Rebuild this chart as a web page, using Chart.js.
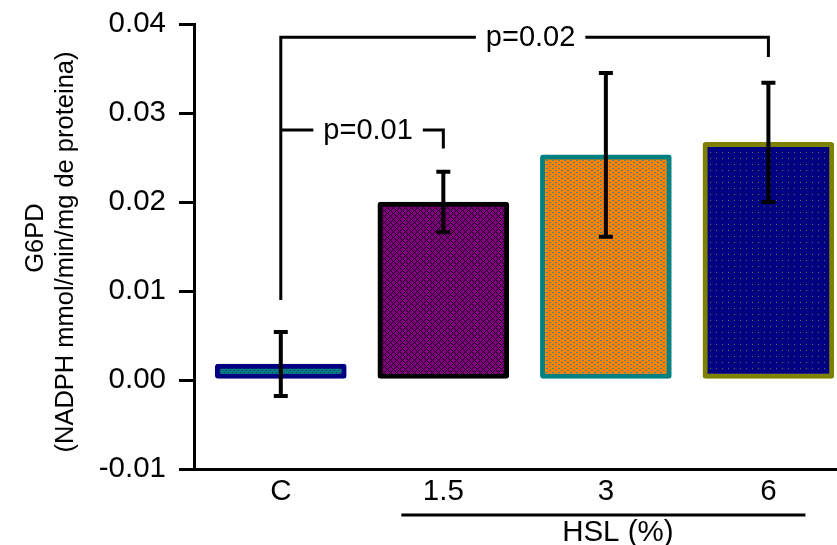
<!DOCTYPE html>
<html>
<head>
<meta charset="utf-8">
<script src="https://cdn.jsdelivr.net/npm/chart.js@4.4.1/dist/chart.umd.min.js"></script>
<style>
  html, body { margin: 0; padding: 0; background: #fff; }
  #g6pdChart { display: block; }
</style>
</head>
<body>
<canvas id="g6pdChart" width="837" height="545"></canvas>
<script>
// グループ (C = 対照, 1.5/3/6 = HSL %)
const categories = ['C', '1.5', '3', '6'];
const means = [0.0018, 0.0200, 0.0253, 0.0267];
const errors = [0.0036, 0.0034, 0.0092, 0.0067];
const yTicks = [-0.01, 0.00, 0.01, 0.02, 0.03, 0.04];

// 有意差の表示: [from, to], 水平線の高さ, 両端の下がり位置
const sigPairs = [[0, 3], [0, 1]];
const sigLabels = ['p=0.02', 'p=0.01'];
const sigLevels = [0.0385, 0.0281];
const sigDrops = [[0.0090, 0.0363], [0.0281, 0.0260]];

const fontFamily = 'Arial, "Liberation Sans", sans-serif';

document.addEventListener('DOMContentLoaded', function() {
    const canvas = document.getElementById('g6pdChart');
    const ctx = canvas.getContext('2d');

    function makePattern(w, h, bg, draw) {
        const c = document.createElement('canvas');
        c.width = w;
        c.height = h;
        const p = c.getContext('2d');
        p.fillStyle = bg;
        p.fillRect(0, 0, w, h);
        draw(p);
        return ctx.createPattern(c, 'repeat');
    }

    // 棒ごとの塗りパターン
    const fills = [
        makePattern(4, 4, '#008080', p => {
            p.fillStyle = '#1a2a70';
            p.fillRect(0, 0, 1, 1);
            p.fillRect(2, 2, 1, 1);
        }),
        makePattern(6, 6, '#800080', p => {
            p.fillStyle = '#1a0018';
            [[0, 0], [1, 1], [2, 2], [4, 2], [5, 1], [3, 3], [2, 4], [1, 5], [4, 4], [5, 5]].forEach(d => {
                p.fillRect(d[0], d[1], 1, 1);
            });
        }),
        makePattern(6, 4, '#ff8000', p => {
            p.fillStyle = '#3c8c78';
            p.fillRect(0, 0, 2, 1);
            p.fillRect(3, 2, 2, 1);
        }),
        makePattern(6, 6, '#000080', p => {
            p.fillStyle = '#707040';
            p.fillRect(2, 2, 1, 1);
        })
    ];
    const borders = ['#000080', '#000000', '#008080', '#808000'];

    const errorBars = {
        id: 'errorBars',
        afterDatasetsDraw(chart) {
            const xs = chart.scales.x, ys = chart.scales.y;
            const c = chart.ctx;
            c.save();
            c.strokeStyle = '#000';
            c.lineWidth = 4;
            means.forEach((m, i) => {
                const x = xs.getPixelForValue(i);
                const top = ys.getPixelForValue(m + errors[i]);
                const bot = ys.getPixelForValue(m - errors[i]);
                c.beginPath();
                c.moveTo(x, top);
                c.lineTo(x, bot);
                c.moveTo(x - 7, top);
                c.lineTo(x + 7, top);
                c.moveTo(x - 7, bot);
                c.lineTo(x + 7, bot);
                c.stroke();
            });
            c.restore();
        }
    };

    const annotations = {
        id: 'annotations',
        afterDraw(chart) {
            const xs = chart.scales.x, ys = chart.scales.y;
            const c = chart.ctx;
            c.save();
            c.strokeStyle = '#000';
            c.fillStyle = '#000';
            c.lineWidth = 3;
            c.font = '29px ' + fontFamily;
            c.textAlign = 'center';
            c.textBaseline = 'middle';

            sigPairs.forEach((pair, k) => {
                const x1 = xs.getPixelForValue(pair[0]);
                const x2 = xs.getPixelForValue(pair[1]);
                const y = ys.getPixelForValue(sigLevels[k]);
                const mid = (x1 + x2) / 2 + 6;
                const half = c.measureText(sigLabels[k]).width / 2 + 10;
                c.beginPath();
                c.moveTo(x1, ys.getPixelForValue(sigDrops[k][0]));
                c.lineTo(x1, y);
                c.lineTo(mid - half, y);
                c.moveTo(mid + half, y);
                c.lineTo(x2, y);
                c.lineTo(x2, ys.getPixelForValue(sigDrops[k][1]));
                c.stroke();
                c.fillText(sigLabels[k], mid, y + 1);
            });

            // HSL (%) のまとめ線
            const lx1 = xs.getPixelForValue(1) - 42;
            const lx2 = xs.getPixelForValue(3) + 37;
            c.beginPath();
            c.moveTo(lx1, 515);
            c.lineTo(lx2, 515);
            c.stroke();
            c.font = '29.5px ' + fontFamily;
            c.fillText('HSL (%)', xs.getPixelForValue(2) + 12, 533);

            // 縦軸タイトル
            c.rotate(-Math.PI / 2);
            c.font = '25.5px ' + fontFamily;
            c.fillText('G6PD', -238, 36);
            c.fillText('(NADPH mmol/min/mg de proteina)', -252, 66);
            c.restore();
        }
    };

    new Chart(ctx, {
        type: 'bar',
        data: {
            datasets: [{
                data: categories.map((c, i) => ({ x: i, y: means[i] })),
                backgroundColor: fills,
                borderColor: borders,
                borderWidth: 5,
                borderRadius: 3,
                borderSkipped: false,
                barThickness: 131
            }]
        },
        options: {
            responsive: false,
            animation: false,
            events: [],
            layout: { padding: { top: 24, left: 0, right: 0, bottom: 0 } },
            plugins: {
                legend: { display: false },
                tooltip: { enabled: false }
            },
            scales: {
                x: {
                    type: 'linear',
                    offset: false,
                    min: -0.534,
                    max: 3.422,
                    afterBuildTicks: scale => {
                        scale.ticks = categories.map((c, i) => ({ value: i }));
                    },
                    afterFit: scale => { scale.height = 76; },
                    grid: { display: false, drawTicks: false, offset: false },
                    border: { display: true, color: '#000', width: 3 },
                    ticks: {
                        color: '#000',
                        padding: 5,
                        font: { family: fontFamily, size: 29.5 },
                        callback: v => categories[v]
                    }
                },
                y: {
                    min: -0.01,
                    max: 0.04,
                    afterBuildTicks: scale => {
                        scale.ticks = yTicks.map(v => ({ value: v }));
                    },
                    afterFit: scale => {
                        scale.width = 194;
                        scale.paddingTop = 0;
                        scale.paddingBottom = 0;
                    },
                    grid: {
                        drawOnChartArea: false,
                        drawTicks: true,
                        tickLength: 15,
                        lineWidth: 3,
                        color: '#000'
                    },
                    border: { display: true, color: '#000', width: 3 },
                    ticks: {
                        color: '#000',
                        padding: 13,
                        font: { family: fontFamily, size: 29.5 },
                        callback: v => v.toFixed(2)
                    }
                }
            }
        },
        plugins: [errorBars, annotations]
    });
});
</script>
</body>
</html>
